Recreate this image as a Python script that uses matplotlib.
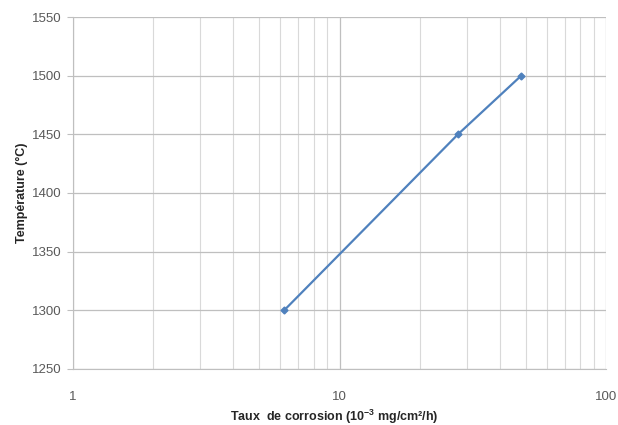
import matplotlib.pyplot as plt
import numpy as np

# taux de corrosion (10^-3 mg/cm2/h) et temperature (°C)
taux = [6.2, 27.8, 48.0]
temperature = [1300, 1450, 1500]
y_ticks = [1250, 1300, 1350, 1400, 1450, 1500, 1550]
x_ticks = [1, 10, 100]

plt.rcParams['font.family'] = ['Liberation Sans', 'DejaVu Sans']

fig = plt.figure(figsize=(6.18, 4.25), dpi=100)
ax = fig.add_axes([0.118, 0.132, 0.863, 0.828])

ax.plot(taux, temperature, color='#4F81BD', lw=1.6, marker='D', ms=3.5, zorder=3)

ax.set_xscale('log')
ax.set_xlim(1, 100)
ax.set_ylim(1250, 1550)
ax.set_yticks(y_ticks)
ax.set_xticks(x_ticks)
ax.set_xticklabels(['1', '10', '100'])

ax.grid(True, which='major', color='#BFBFBF', lw=0.9)
ax.grid(True, which='minor', axis='x', color='#D9D9D9', lw=0.8)

for s in ['top', 'right']:
    ax.spines[s].set_visible(False)
ax.spines['left'].set_color('#BFBFBF')
ax.spines['bottom'].set_color('#BFBFBF')

ax.tick_params(axis='y', colors='#595959', labelsize=9.5, length=4, color='#BFBFBF', pad=4)
ax.tick_params(axis='x', which='major', colors='#595959', labelsize=9.5, length=0, pad=16)
ax.tick_params(axis='x', which='minor', length=0)

ax.set_ylabel('Température (°C)', fontsize=9, fontweight='bold', color='#262626')
ax.yaxis.set_label_coords(-0.085, 0.5)
ax.set_xlabel('Taux  de corrosion (10$^{\\mathregular{-3}}$ mg/cm²/h)', fontsize=9, fontweight='bold',
              color='#262626')
ax.xaxis.set_label_coords(0.49, -0.11)

fig.savefig('out.png', dpi=100)
